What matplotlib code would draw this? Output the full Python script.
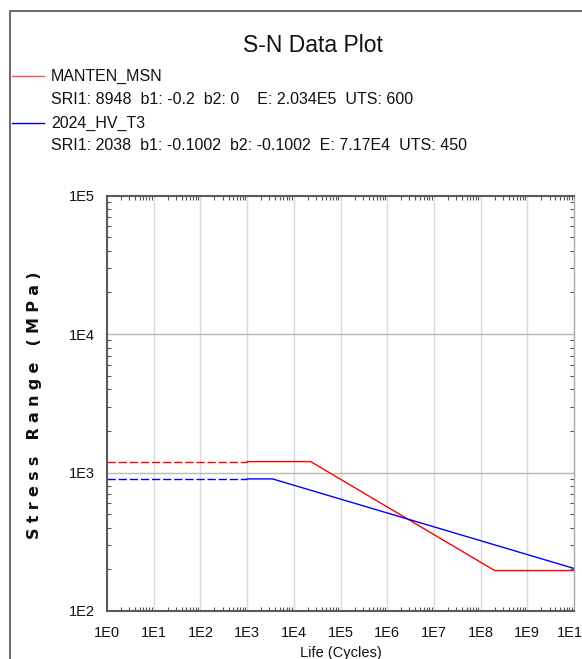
import numpy as np
import matplotlib
matplotlib.use("Agg")
import matplotlib.pyplot as plt
from matplotlib.patches import Rectangle
from matplotlib.ticker import LogLocator, NullFormatter, FixedLocator, FixedFormatter

plt.rcParams['font.family'] = ['Liberation Sans', 'DejaVu Sans']

# S-N 曲线数据 (寿命 N, 应力幅 S)
red_name = "MANTEN_MSN"
red_info = "SRI1: 8948  b1: -0.2  b2: 0    E: 2.034E5  UTS: 600"
red_n = [1, 1e3, 2.3e4, 2e8, 1e10]
red_s = [1200, 1200, 1200, 196, 196]

blue_name = "2024_HV_T3"
blue_info = "SRI1: 2038  b1: -0.1002  b2: -0.1002  E: 7.17E4  UTS: 450"
blue_n = [1, 1e3, 3.5e3, 1e10]
blue_s = [900, 900, 900, 203]

x_ticks = [10.0 ** k for k in range(0, 11)]
x_labels = ["1E%d" % k for k in range(0, 11)]
y_ticks = [1e2, 1e3, 1e4, 1e5]
y_labels = ["1E2", "1E3", "1E4", "1E5"]

W, H = 582, 659
fig = plt.figure(figsize=(W / 100, H / 100), dpi=100)

# 外框
fig.add_artist(Rectangle((10.5 / W, -0.1), 1.2, 1.1 - 10.7 / H, transform=fig.transFigure,
                         fill=False, ec='#6a6a6a', lw=1.4, clip_on=False))

fig.text(313 / W, 1 - 46 / H, "S-N Data Plot", ha='center', va='center', fontsize=16.5, color='#111111')

# 图例
rows = [(red_name, '#ff5050', 76), (red_info, None, 100),
        (blue_name, '#0000cc', 123), (blue_info, None, 146)]
for txt, col, yy in rows:
    if col is not None:
        fig.add_artist(plt.Line2D([12 / W, 44 / W], [1 - yy / H, 1 - yy / H], color=col, lw=1.0,
                                  transform=fig.transFigure))
    fig.text(51 / W, 1 - yy / H, txt, ha='left', va='center', fontsize=11.5, color='#111111')

ax = fig.add_axes([107 / W, 48 / H, 467 / W, 415.3 / H])
ax.set_xscale('log')
ax.set_yscale('log')
ax.set_xlim(1, 1e10)
ax.set_ylim(1e2, 1e5)

# 虚线段 + 实线段
ax.plot(red_n[:2], red_s[:2], color='#ff0000', lw=1.0, dashes=(6, 2))
ax.plot(red_n[1:], red_s[1:], color='#ff0000', lw=1.0)
ax.plot(blue_n[:2], blue_s[:2], color='#0000ff', lw=1.0, dashes=(6, 2))
ax.plot(blue_n[1:], blue_s[1:], color='#0000ff', lw=1.0)

ax.xaxis.set_major_locator(FixedLocator(x_ticks))
ax.xaxis.set_major_formatter(FixedFormatter(x_labels))
ax.yaxis.set_major_locator(FixedLocator(y_ticks))
ax.yaxis.set_major_formatter(FixedFormatter(y_labels))
ax.xaxis.set_minor_locator(LogLocator(base=10, subs=np.arange(2, 10), numticks=20))
ax.yaxis.set_minor_locator(LogLocator(base=10, subs=np.arange(2, 10), numticks=20))
ax.xaxis.set_minor_formatter(NullFormatter())
ax.yaxis.set_minor_formatter(NullFormatter())

ax.tick_params(which='major', length=0, labelsize=10.5, labelcolor='#111111')
ax.tick_params(axis='x', which='major', pad=11)
ax.tick_params(axis='y', which='major', pad=9)
ax.tick_params(which='minor', direction='in', length=3, width=0.8, color='#555555',
               top=True, right=True)

for k in x_ticks[1:-1]:
    ax.axvline(k, color='#dadada', lw=1.0, zorder=0)
for k in y_ticks[1:-1]:
    ax.axhline(k, color='#b8b8b8', lw=1.0, zorder=0)

for s in ['left', 'bottom', 'top']:
    ax.spines[s].set_color('#5a5a5a')
    ax.spines[s].set_linewidth(1.5)
ax.spines['right'].set_color('#a8a8a8')
ax.spines['right'].set_linewidth(1.0)

ax.set_xlabel("Life (Cycles)", fontsize=10.5, color='#111111', labelpad=4)
ylab = "\u2004".join("Stress Range (MPa)")
fig.text(35 / W, 1 - 405 / H, ylab, rotation=90, ha='center', va='center',
         fontsize=11.5, fontweight='bold', color='#111111', family=['DejaVu Sans'])

fig.savefig("out.png", dpi=100)
